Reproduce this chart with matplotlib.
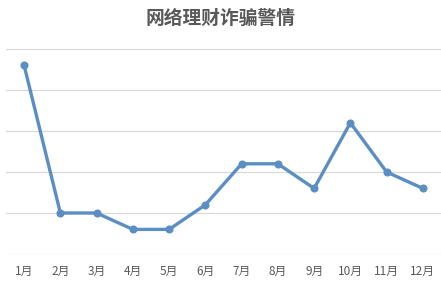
import matplotlib
matplotlib.use("Agg")
import matplotlib.pyplot as plt

plt.rcParams['font.family'] = ['Noto Sans CJK SC', 'DejaVu Sans']

months = ["1月", "2月", "3月", "4月", "5月", "6月", "7月", "8月", "9月", "10月", "11月", "12月"]
values = [23, 5, 5, 3, 3, 6, 11, 11, 8, 16, 10, 8]
title = "网络理财诈骗警情"
yticks = [0, 5, 10, 15, 20, 25]

fig = plt.figure(figsize=(4.41, 2.85), dpi=100)
ax = fig.add_axes([6/441, 1-254/285, 435/441, 205/285])

x = list(range(len(months)))
ax.plot(x, values, color="#5B8EC3", linewidth=2.4, marker="o", markersize=4.8,
        markerfacecolor="#5B8EC3", markeredgecolor="#5B8EC3", zorder=3, clip_on=False)

ax.set_xlim(-0.5, len(months) - 0.5)
ax.set_ylim(0, 25)
ax.set_yticks(yticks)
ax.set_yticklabels([])
ax.tick_params(axis='y', length=0)
ax.set_xticks(x)
ax.set_xticklabels(months, fontsize=8.5, color="#595959")
ax.tick_params(axis='x', length=0, pad=8)
ax.grid(axis='y', color="#D9D9D9", linewidth=0.9)
ax.set_axisbelow(True)
for s in ax.spines.values():
    s.set_visible(False)

fig.text(0.5, 1-18/285, title, ha='center', va='center', fontsize=13.5, color="#595959", fontweight='bold')

fig.savefig("out.png", dpi=100, facecolor="white")
